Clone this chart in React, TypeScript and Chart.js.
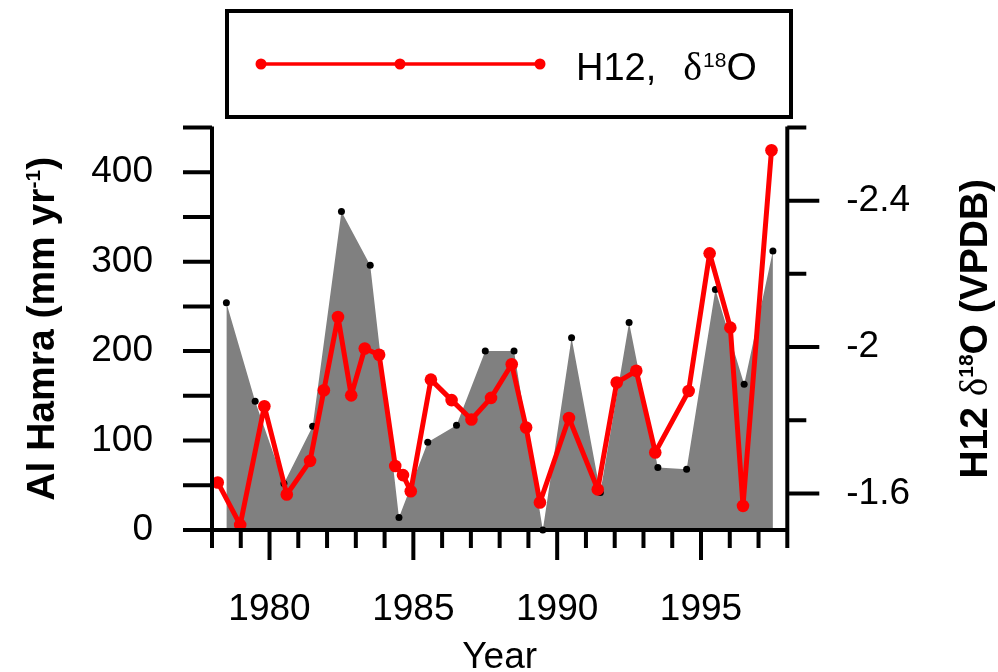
import React, { useEffect, useRef } from 'react';
import { Chart, registerables } from 'chart.js';

Chart.register(...registerables);

// Al Hamra precipitation (mm/yr), plotted at mid-year
const rainYears = [1978.5, 1979.5, 1980.5, 1981.5, 1982.5, 1983.5, 1984.5, 1985.5, 1986.5, 1987.5, 1988.5, 1989.5, 1990.5, 1991.5, 1992.5, 1993.5, 1994.5, 1995.5, 1996.5, 1997.5];
const rainValues = [254, 144, 52, 116, 356, 296, 14, 98, 117, 200, 200, 0, 215, 42, 232, 70, 68, 269, 163, 312];

// H12 d18O (VPDB)
const isoYears = [1978.2, 1978.98, 1979.82, 1980.6, 1981.41, 1981.89, 1982.38, 1982.84, 1983.31, 1983.81, 1984.37, 1984.64, 1984.91, 1985.61, 1986.33, 1987.02, 1987.7, 1988.42, 1988.92, 1989.4, 1990.41, 1991.41, 1992.07, 1992.75, 1993.41, 1994.57, 1995.3, 1996.02, 1996.46, 1997.45];
const isoValues = [-1.63, -1.514, -1.838, -1.597, -1.689, -1.882, -2.082, -1.868, -1.996, -1.979, -1.675, -1.65, -1.606, -1.911, -1.855, -1.802, -1.861, -1.953, -1.78, -1.575, -1.806, -1.611, -1.903, -1.935, -1.712, -1.88, -2.256, -2.053, -1.566, -2.538];

const xTickLabels = [1980, 1985, 1990, 1995];
const leftTickLabels = [0, 100, 200, 300, 400];
const rightTicks = [-2.6, -2.4, -2.2, -2.0, -1.8, -1.6];
const rightTickLabels = [-2.4, -2.0, -1.6];

const SANS = '"Liberation Sans", Arial, sans-serif';
const SERIF = '"Liberation Serif", "Times New Roman", serif';

type Run = { text: string; font: string; dy?: number; gap?: number };

function runsWidth(ctx: CanvasRenderingContext2D, runs: Run[]) {
  let w = 0;
  for (const r of runs) {
    ctx.font = r.font;
    w += ctx.measureText(r.text).width + (r.gap || 0);
  }
  return w;
}

function drawRuns(ctx: CanvasRenderingContext2D, runs: Run[], x: number, y: number) {
  let cx = x;
  for (const r of runs) {
    ctx.font = r.font;
    ctx.fillText(r.text, cx, y + (r.dy || 0));
    cx += ctx.measureText(r.text).width + (r.gap || 0);
  }
}

const isLabeled = (list: number[], v: number) => list.some((t) => Math.abs(t - v) < 1e-6);

const axesPlugin = {
  id: 'customAxes',
  afterDatasetsDraw(chart: any) {
    const ctx: CanvasRenderingContext2D = chart.ctx;
    const { left, right, top, bottom } = chart.chartArea;
    const xs = chart.scales.x;
    const ys = chart.scales.y;
    const y1 = chart.scales.y1;
    ctx.save();
    ctx.strokeStyle = '#000';
    ctx.lineWidth = 4;
    ctx.lineCap = 'butt';
    ctx.beginPath();
    ctx.moveTo(left, top - 1);
    ctx.lineTo(left, bottom + 2);
    ctx.moveTo(right, top - 1);
    ctx.lineTo(right, bottom + 2);
    ctx.moveTo(left - 2, bottom);
    ctx.lineTo(right + 2, bottom);
    for (const t of ys.ticks) {
      const py = ys.getPixelForValue(t.value);
      ctx.moveTo(left - 29, py);
      ctx.lineTo(left, py);
    }
    for (const t of y1.ticks) {
      const py = y1.getPixelForValue(t.value);
      const len = isLabeled(rightTickLabels, t.value) ? 32 : 19;
      ctx.moveTo(right, py);
      ctx.lineTo(right + len, py);
    }
    for (const t of xs.ticks) {
      const px = xs.getPixelForValue(t.value);
      const len = isLabeled(xTickLabels, t.value) ? 30 : 18;
      ctx.moveTo(px, bottom);
      ctx.lineTo(px, bottom + len);
    }
    ctx.stroke();
    ctx.restore();
  },
  afterDraw(chart: any) {
    const ctx: CanvasRenderingContext2D = chart.ctx;
    const { left, right, top, bottom } = chart.chartArea;
    ctx.save();
    ctx.fillStyle = '#000';
    ctx.textBaseline = 'alphabetic';
    ctx.textAlign = 'left';

    // x title
    const xRuns: Run[] = [{ text: 'Year', font: `37px ${SANS}` }];
    drawRuns(ctx, xRuns, (left + right) / 2 - runsWidth(ctx, xRuns) / 2, 668);

    // left title
    const lRuns: Run[] = [
      { text: 'Al Hamra (mm yr', font: `bold 39px ${SANS}` },
      { text: '-1', font: `bold 21px ${SANS}`, dy: -14 },
      { text: ')', font: `bold 39px ${SANS}` },
    ];
    ctx.save();
    ctx.translate(54, (top + bottom) / 2);
    ctx.rotate(-Math.PI / 2);
    drawRuns(ctx, lRuns, -runsWidth(ctx, lRuns) / 2, 0);
    ctx.restore();

    // right title
    const rRuns: Run[] = [
      { text: 'H12 ', font: `bold 39px ${SANS}` },
      { text: 'δ', font: `39px ${SERIF}` },
      { text: '18', font: `bold 21px ${SANS}`, dy: -14 },
      { text: 'O (VPDB)', font: `bold 39px ${SANS}` },
    ];
    ctx.save();
    ctx.translate(987, (top + bottom) / 2);
    ctx.rotate(-Math.PI / 2);
    drawRuns(ctx, rRuns, -runsWidth(ctx, rRuns) / 2, 0);
    ctx.restore();

    // legend box
    ctx.strokeStyle = '#000';
    ctx.lineWidth = 4;
    ctx.strokeRect(227, 11, 564, 106);
    const ly = 64;
    ctx.strokeStyle = '#ff0000';
    ctx.lineWidth = 3.5;
    ctx.beginPath();
    ctx.moveTo(261, ly);
    ctx.lineTo(540, ly);
    ctx.stroke();
    ctx.fillStyle = '#ff0000';
    for (const mx of [261, 400, 540]) {
      ctx.beginPath();
      ctx.arc(mx, ly, 5.5, 0, Math.PI * 2);
      ctx.fill();
    }
    ctx.fillStyle = '#000';
    const legRuns: Run[] = [
      { text: 'H12,', font: `38px ${SANS}`, gap: 27 },
      { text: 'δ', font: `40px ${SERIF}`, gap: 1 },
      { text: '18', font: `21px ${SANS}`, dy: -13 },
      { text: 'O', font: `39px ${SANS}` },
    ];
    drawRuns(ctx, legRuns, 576, 80);
    ctx.restore();
  },
};

export default function App() {
  const canvasRef = useRef<HTMLCanvasElement | null>(null);

  useEffect(() => {
    const canvas = canvasRef.current;
    if (!canvas) return;
    const tickFont = { family: SANS, size: 37 };
    const chart = new Chart(canvas, {
      type: 'line',
      data: {
        datasets: [
          {
            label: 'H12, δ18O',
            data: isoYears.map((x, i) => ({ x, y: isoValues[i] })),
            yAxisID: 'y1',
            xAxisID: 'x',
            borderColor: '#ff0000',
            backgroundColor: '#ff0000',
            borderWidth: 5,
            borderJoinStyle: 'round',
            borderCapStyle: 'round',
            pointRadius: 6.3,
            pointBackgroundColor: '#ff0000',
            pointBorderWidth: 0,
            fill: false,
            tension: 0,
            order: 0,
            clip: false,
          },
          {
            label: 'Al Hamra',
            data: rainYears.map((x, i) => ({ x, y: rainValues[i] })),
            yAxisID: 'y',
            xAxisID: 'x',
            borderColor: 'rgba(0,0,0,0)',
            borderWidth: 0,
            backgroundColor: '#808080',
            fill: 'origin',
            pointRadius: 3.5,
            pointBackgroundColor: '#000000',
            pointBorderWidth: 0,
            tension: 0,
            order: 1,
            clip: false,
          },
        ],
      } as any,
      options: {
        responsive: false,
        devicePixelRatio: 1,
        animation: false,
        events: [],
        layout: { padding: { top: 127.5, left: 0, right: 0, bottom: 0 } },
        plugins: { legend: { display: false }, tooltip: { enabled: false } },
        scales: {
          x: {
            type: 'linear',
            position: 'bottom',
            min: 1978,
            max: 1998,
            grid: { display: false, drawTicks: false },
            border: { display: false },
            ticks: {
              stepSize: 1,
              autoSkip: false,
              maxRotation: 0,
              minRotation: 0,
              padding: 58,
              color: '#000',
              font: tickFont,
              callback: (v: any) => (isLabeled(xTickLabels, Number(v)) ? String(v) : ''),
            },
            afterFit: (s: any) => {
              s.height = 142;
            },
          },
          y: {
            type: 'linear',
            position: 'left',
            min: 0,
            max: 450,
            grid: { display: false, drawTicks: false },
            border: { display: false },
            ticks: {
              stepSize: 50,
              autoSkip: false,
              padding: 59,
              color: '#000',
              font: tickFont,
              callback: (v: any) => (isLabeled(leftTickLabels, Number(v)) ? String(v) : ''),
            },
            afterFit: (s: any) => {
              s.width = 212;
            },
          },
          y1: {
            type: 'linear',
            position: 'right',
            min: -2.6,
            max: -1.5,
            reverse: true,
            grid: { display: false, drawTicks: false },
            border: { display: false },
            afterBuildTicks: (s: any) => {
              s.ticks = rightTicks.map((v) => ({ value: v }));
            },
            ticks: {
              autoSkip: false,
              padding: 59,
              color: '#000',
              font: tickFont,
              callback: (v: any) =>
                isLabeled(rightTickLabels, Number(v)) ? String(Number(Number(v).toFixed(1))) : '',
            },
            afterFit: (s: any) => {
              s.width = 210.7;
            },
          },
        },
      } as any,
      plugins: [axesPlugin],
    });
    return () => chart.destroy();
  }, []);

  return (
    <div style={{ position: 'absolute', left: 0, top: 0, width: 998, height: 672, background: '#fff' }}>
      <canvas ref={canvasRef} width={998} height={672} style={{ display: 'block' }} />
    </div>
  );
}
